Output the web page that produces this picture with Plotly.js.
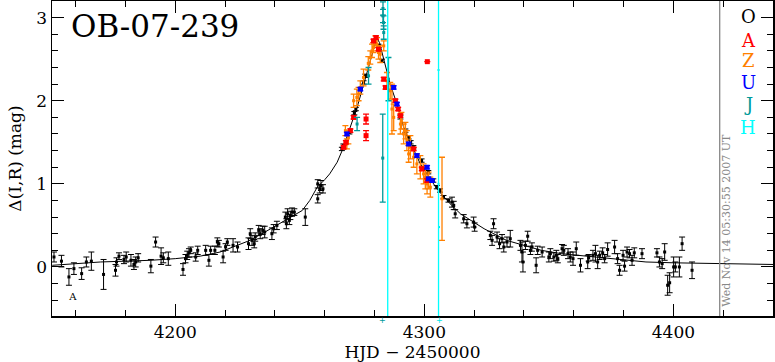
<!DOCTYPE html>
<html><head><meta charset="utf-8">
<script src="https://cdn.plot.ly/plotly-3.0.1.min.js"></script>
<style>html,body{margin:0;padding:0;background:#fff}#plot{width:775px;height:362px}</style>
</head><body><div id="plot"></div>
<script>
// ---- Model curve ----
const fitX = [4150.6,4160,4170,4180,4190,4200,4210,4218,4223,4230,4236,4242,4247,4251,4254,4257,4260,4262,4265,4267,4270,4273,4275.5,4278,4280,4281,4282,4283.7,4286.3,4289,4291.7,4294,4298.4,4302,4305,4308,4311,4314.5,4319,4324,4333,4340,4347,4355,4365,4375,4389,4400,4419,4440];
const fitY = [0.02,0.04,0.06,0.07,0.08,0.10,0.13,0.18,0.24,0.32,0.42,0.52,0.61,0.68,0.80,0.96,1.05,1.12,1.26,1.40,1.66,1.92,2.18,2.46,2.66,2.75,2.70,2.50,2.20,1.96,1.68,1.52,1.24,1.08,0.94,0.84,0.74,0.64,0.55,0.46,0.32,0.26,0.20,0.16,0.13,0.10,0.06,0.05,0.04,0.03];

// ---- O (black) ----
const oX = [4151.3,4154.3,4157.3,4159.3,4162.4,4164.3,4166.3,4171.2,4176,4176.4,4177.4,4179.4,4180.3,4182.2,4183.4,4184.1,4185.1,4190.2,4192.1,4194.3,4195.2,4197.2,4203.1,4204.1,4204.8,4205.5,4206.2,4208.2,4209,4212.2,4213.5,4214.2,4215.9,4216.9,4217.5,4219.2,4220.9,4220.2,
4223.2,4225,4229.4,4230.1,4230.8,4231.7,4232.1,4233.5,4234.1,4235.1,4235.9,4238.8,4239.5,4240.8,4244.2,4244.6,4245.1,4245.8,4246.2,4246.9,4247.8,4252.2,4257.2,4258,4258.5,4257.2,4259.3,
4266.9,4267.5,4269.9,4271.9,4272.5,4275.6,4276.3,4281.6,4283,4290.4,4292.4,4293.7,4294.5,4295.6,4298.9,4300.2,4301.6,4303.6,4305,4306.3,4307.7,4309.7,
4311.1,4311.8,4312.4,4315.8,4317.1,4319.8,4320.2,4326.5,4327.2,4327.8,4329.2,4330.2,4331.2,4331.9,4333.2,4334.5,4338.6,4339.2,4339.6,4340.6,4341.5,4342.6,4343.2,4344.9,4345.5,4347.3,4350,4350.6,4352,4353,4353.6,4355.3,4356,4357.7,4358.6,4359.7,4361,4362.7,4365.6,4366,
4367.7,4368.7,4369.6,4370.4,4371.6,4372.4,4373.6,4376.4,4377.6,4378.4,4379.8,4380.4,4381.4,4382.4,4383.4,4384.3,4387.4,4393.4,4394.4,4395.5,4396.5,4397.7,4398.5,4400.1,4400.8,4402.4,4403.5,4407.5];
const oY = [0.12,0.07,-0.12,-0.02,-0.08,0.06,0.07,-0.09,-0.04,0.06,0.13,0.09,0.12,0.08,0.03,0.06,0.11,0.01,0.30,0.13,0.11,0.10,-0.03,0.10,0.14,0.17,0.20,0.12,0.20,0.20,0.08,0.20,0.20,0.30,0.28,0.12,0.30,0.24,
0.26,0.24,0.28,0.40,0.32,0.28,0.36,0.44,0.40,0.44,0.42,0.40,0.46,0.50,0.60,0.52,0.64,0.56,0.62,0.66,0.66,0.60,1.00,0.94,0.98,0.82,0.94,
1.42,1.46,1.62,1.85,1.90,2.22,2.30,2.66,2.48,1.80,1.64,1.56,1.50,1.44,1.28,1.18,1.14,1.04,0.96,0.92,0.84,0.80,
0.78,0.74,0.64,0.58,0.52,0.54,0.48,0.38,0.32,0.52,0.36,0.28,0.34,0.24,0.30,0.34,0.26,0.18,0.06,0.26,0.37,0.20,0.24,0.02,0.20,0.18,0.12,0.16,0.12,0.14,0.10,0.22,0.20,0.16,0.12,0.10,0.22,0.02,0.06,0.11,
0.14,0.16,0.06,0.14,0.17,0.10,0.21,0.24,0.10,-0.04,0.14,0.01,0.18,0.16,0.08,0.17,0.16,0.17,0.06,0.04,0.18,-0.22,-0.19,0.00,0.00,0.00,0.28,-0.04];
const oE = [0.06,0.07,0.10,0.07,0.07,0.06,0.11,0.18,0.07,0.05,0.04,0.05,0.06,0.07,0.06,0.06,0.05,0.08,0.06,0.10,0.06,0.08,0.07,0.05,0.05,0.05,0.04,0.05,0.05,0.06,0.07,0.05,0.05,0.05,0.04,0.07,0.04,0.04,
0.08,0.06,0.07,0.06,0.06,0.05,0.05,0.06,0.06,0.05,0.07,0.07,0.05,0.05,0.06,0.06,0.06,0.05,0.05,0.05,0.04,0.10,0.05,0.05,0.06,0.05,0.05,
0.02,0.02,0.02,0.02,0.02,0.02,0.02,0.02,0.02,0.02,0.02,0.02,0.02,0.02,0.02,0.02,0.02,0.02,0.02,0.02,0.02,0.02,
0.06,0.05,0.05,0.05,0.05,0.06,0.05,0.05,0.06,0.06,0.06,0.06,0.05,0.06,0.06,0.10,0.06,0.12,0.12,0.05,0.06,0.05,0.05,0.09,0.05,0.06,0.06,0.06,0.05,0.06,0.05,0.05,0.06,0.06,0.06,0.08,0.08,0.08,0.08,0.04,
0.06,0.10,0.08,0.05,0.06,0.05,0.08,0.08,0.06,0.06,0.06,0.06,0.06,0.05,0.06,0.06,0.06,0.05,0.06,0.06,0.10,0.12,0.12,0.12,0.06,0.12,0.08,0.10];

// ---- A (red) ----
const aX = [4267.6,4268.5,4270.3,4271.6,4276.6,4276.6,4279.6,4280.6,4281.6,4283.7,4284.4,4288.4,4289.5,4290.4,4295.7,4299.0,4301.1,4301.2];
const aY = [1.44,1.50,1.64,1.80,1.78,1.58,2.72,2.76,2.62,2.26,2.16,2.00,1.90,1.82,1.42,1.18,1.04,2.47];
const aE = [0.02,0.02,0.02,0.02,0.06,0.06,0.02,0.02,0.02,0.02,0.02,0.02,0.02,0.02,0.02,0.02,0.02,0.0];

// ---- Z (orange) ----
const zX = [4268.3,4268.9,4269.5,4271.6,4272.9,4273.6,4274.3,4275.6,4277.5,4278.3,4279.0,4279.6,4280.3,4281.0,4281.6,4282.3,4283.7,4285.0,4286.3,4287.0,4287.7,4290.4,4290.8,4291.7,4292.4,4293.0,4293.7,4294.4,4295.7,4297.0,4298.4,4299.7,4300.4,4301.1,4301.7,4302.4,4307.1];
const zY = [1.64,1.48,1.56,2.00,2.04,2.08,2.16,2.28,2.45,2.52,2.60,2.64,2.72,2.68,2.58,2.56,2.66,2.24,2.12,1.90,1.80,1.72,1.76,1.60,1.64,1.52,1.36,1.44,1.32,1.24,1.20,1.12,1.08,1.00,1.04,0.96,0.82];
const zE = [0.06,0.06,0.08,0.08,0.10,0.08,0.08,0.10,0.08,0.08,0.08,0.06,0.06,0.08,0.08,0.10,0.06,0.10,0.10,0.30,0.16,0.12,0.10,0.12,0.10,0.12,0.10,0.14,0.12,0.12,0.14,0.12,0.14,0.12,0.10,0.12,0.50];

// ---- U (blue) ----
const uX = [4268.9,4274.3,4287.7,4289.0,4293.7,4297.0,4301.1,4301.7,4303.1];
const uY = [1.60,2.14,2.16,1.96,1.48,1.34,1.20,1.06,1.04];
const uE = [0.02,0.02,0.02,0.02,0.02,0.02,0.02,0.02,0.02];

// ---- J (teal) ----
const jX = [4283.4,4283.4,4283.6,4283.7,4285.6,4283.3,4273.0,4277.6];
const jY = [3.11,3.02,2.94,2.82,2.26,1.31,1.72,2.30];
const jE = [0.08,0.08,0.08,0.08,0.26,0.53,0.08,0.10];

// ---- H (cyan) ----
const hX = [4305.7,4305.7,4305.9];
const hY = [2.37,1.00,0.48];

// ---- extra marks ----
const noteX = [4158.9], noteY = [-0.37], noteText = ['A'];
const cyanLines = [4285.3, 4305.7];
const grayLines = [4418.6];
const jEpoch = [4283.4], hEpoch = [4305.9];

const legendLabels = ['O','A','Z','U','J','H'];
const legendColors = ['#000000','#ff0000','#ff8000','#0000ff','#009999','#00ffff'];
const stamp = 'Wed Nov 14 05:30:55 2007 UT';
const titleText = 'OB-07-239';

const FONT = 'DejaVu Serif';
const xMin = 4150.5, xMax = 4440;
const yMin = -0.59, yMax = 3.2;

function pts(x, y, e, color, size, sym, ew) {
  return {x:x, y:y, type:'scatter', mode:'markers',
    marker:{color:color, size:size, symbol:sym},
    error_y: e ? {type:'data', array:e, visible:true, color:color, thickness:ew||1, width:3} : undefined,
    showlegend:false, hoverinfo:'skip'};
}

const traces = [
  {x:fitX, y:fitY, type:'scatter', mode:'lines', line:{color:'#000', width:1}, showlegend:false, hoverinfo:'skip'},
  pts(oX,oY,oE,'#000',3,'square',1),
  pts(zX,zY,zE,'#ff8000',3,'square',1.3),
  pts(aX,aY,aE,'#ff0000',5,'square',1.3),
  pts(uX,uY,uE,'#0000ff',5,'square',1),
  pts(jX,jY,jE,'#009999',3,'square',1.3),
  pts(hX,hY,null,'#00e0e0',2,'square',1),
  {x:noteX, y:noteY, text:noteText, type:'scatter', mode:'text', textfont:{family:FONT,size:10,color:'#000'}, showlegend:false, hoverinfo:'skip'}
];

const shapes = [];
cyanLines.forEach(v => shapes.push({type:'line', xref:'x', yref:'paper', x0:v, x1:v, y0:0, y1:1, line:{color:'#00ffff', width:1.3}, layer:'above'}));
grayLines.forEach(v => shapes.push({type:'line', xref:'x', yref:'paper', x0:v, x1:v, y0:0, y1:1, line:{color:'#888888', width:1.3}}));

const annotations = [
  {text:titleText, xref:'paper', yref:'paper', x:0.024, y:0.921, xanchor:'left', yanchor:'middle', showarrow:false, font:{family:FONT, size:31, color:'#000'}},
  {text:stamp, xref:'paper', yref:'paper', x:0.9358, y:0.305, xanchor:'center', yanchor:'middle', textangle:-90, showarrow:false, font:{family:FONT, size:11, color:'#888888'}}
];
jEpoch.forEach(v => annotations.push({text:'+', xref:'x', yref:'paper', x:v, y:-0.015, xanchor:'center', yanchor:'middle', showarrow:false, borderpad:0, font:{family:'DejaVu Sans', size:8, color:'#009999'}}));
hEpoch.forEach(v => annotations.push({text:'+', xref:'x', yref:'paper', x:v, y:-0.015, xanchor:'center', yanchor:'middle', showarrow:false, borderpad:0, font:{family:'DejaVu Sans', size:8, color:'#00e5e5'}}));
const legY = [0.950,0.876,0.810,0.740,0.670,0.597];
legendLabels.forEach((l,i) => annotations.push({text:l, xref:'paper', yref:'paper', x:0.9657, y:legY[i], xanchor:'center', yanchor:'middle', showarrow:false, font:{family:FONT, size:18, color:legendColors[i]}}));

const axisCommon = {showline:true, linecolor:'#000', linewidth:1.5, mirror:'allticks', ticks:'inside', ticklen:12, tickwidth:1, tickcolor:'#000', showgrid:false, zeroline:false, tickfont:{family:FONT, size:17, color:'#000'}};
const xMinor = {ticks:'inside', ticklen:6, dtick:20, tickcolor:'#000', showgrid:false};
const yMinor = {ticks:'inside', ticklen:6, dtick:0.2, tickcolor:'#000', showgrid:false};

const layout = {
  width:775, height:362,
  margin:{l:52, r:2, t:1, b:46},
  paper_bgcolor:'#fff', plot_bgcolor:'#fff',
  xaxis:Object.assign({}, axisCommon, {range:[xMin,xMax], dtick:100, tick0:4200, minor:xMinor,
    title:{text:'HJD \u2212 2450000', font:{family:FONT, size:17, color:'#000'}, standoff:4}}),
  yaxis:Object.assign({}, axisCommon, {range:[yMin,yMax], dtick:1, tick0:0, minor:yMinor,
    title:{text:'\u0394(I,R) (mag)', font:{family:FONT, size:17, color:'#000'}, standoff:10}}),
  shapes:shapes, annotations:annotations
};

Plotly.newPlot('plot', traces, layout, {staticPlot:true, displayModeBar:false});
</script></body></html>
